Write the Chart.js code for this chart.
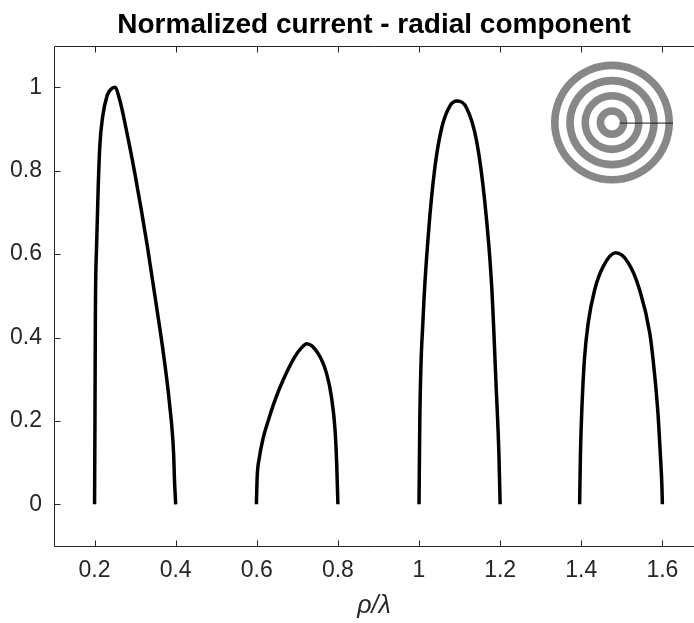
<!DOCTYPE html>
<html>
<head>
<meta charset="utf-8">
<script src="https://cdn.jsdelivr.net/npm/chart.js@4.4.1/dist/chart.umd.min.js"></script>
<style>
  html, body { margin: 0; padding: 0; background: #fff; overflow: hidden; }
  #wrap { width: 694px; height: 623px; }
</style>
</head>
<body>
<div id="wrap"><canvas id="myChart"></canvas></div>
<script>
// tick labels
const xTicks = [0.2, 0.4, 0.6, 0.8, 1.0, 1.2, 1.4, 1.6];
const yTicks = [0, 0.2, 0.4, 0.6, 0.8, 1.0];

// the four lobes (x = rho/lambda, y = normalized current)
const lobe1X = [0.200, 0.201, 0.202, 0.205, 0.209, 0.213, 0.220, 0.231, 0.240, 0.250, 0.262, 0.280, 0.300, 0.330, 0.355, 0.370, 0.385, 0.395, 0.397, 0.400];
const lobe1Y = [0.00, 0.20, 0.45, 0.62, 0.76, 0.86, 0.93, 0.98, 0.995, 1.00, 0.97, 0.89, 0.79, 0.62, 0.46, 0.36, 0.24, 0.12, 0.06, 0.00];

const lobe2X = [0.599, 0.601, 0.606, 0.616, 0.628, 0.645, 0.665, 0.694, 0.710, 0.723, 0.751, 0.772, 0.784, 0.793, 0.797, 0.800];
const lobe2Y = [0.00, 0.066, 0.11, 0.16, 0.20, 0.25, 0.298, 0.354, 0.375, 0.385, 0.362, 0.314, 0.258, 0.178, 0.098, 0.00];

const lobe3X = [1.000, 1.002, 1.010, 1.023, 1.039, 1.056, 1.076, 1.094, 1.117, 1.142, 1.162, 1.179, 1.190, 1.197, 1.200];
const lobe3Y = [0.00, 0.206, 0.446, 0.647, 0.807, 0.903, 0.955, 0.967, 0.951, 0.871, 0.727, 0.526, 0.286, 0.12, 0.00];

const lobe4X = [1.396, 1.398, 1.402, 1.408, 1.417, 1.433, 1.454, 1.485, 1.516, 1.544, 1.569, 1.580, 1.589, 1.595, 1.599, 1.600];
const lobe4Y = [0.00, 0.12, 0.24, 0.35, 0.434, 0.514, 0.570, 0.603, 0.579, 0.514, 0.410, 0.32, 0.22, 0.12, 0.04, 0.00];

const axisColor = "#262626";

function toPoints(xs, ys) {
  return xs.map(function (x, i) { return { x: x, y: ys[i] }; });
}

function lobe(xs, ys) {
  return {
    data: toPoints(xs, ys),
    borderColor: "#000",
    borderWidth: 3.5,
    pointRadius: 0,
    showLine: true,
    fill: false,
    cubicInterpolationMode: "monotone"
  };
}

// axes lines on left, top, bottom with inward ticks (right side is cut off in the picture)
const boxPlugin = {
  id: "box",
  afterDraw(chart) {
    const ctx = chart.ctx;
    const a = chart.chartArea;
    const xs = chart.scales.x;
    const ys = chart.scales.y;
    const len = 6;
    const l = Math.round(a.left) + 0.5;
    const t = Math.round(a.top) + 0.5;
    const b = Math.round(a.bottom) + 0.5;
    ctx.save();
    ctx.strokeStyle = axisColor;
    ctx.lineWidth = 1;
    ctx.beginPath();
    ctx.moveTo(a.right + 2, t);
    ctx.lineTo(l, t);
    ctx.lineTo(l, b);
    ctx.lineTo(a.right + 2, b);
    xTicks.forEach(function (v) {
      const px = Math.round(xs.getPixelForValue(v)) + 0.5;
      ctx.moveTo(px, b);
      ctx.lineTo(px, b - len);
      ctx.moveTo(px, t);
      ctx.lineTo(px, t + len);
    });
    yTicks.forEach(function (v) {
      const py = Math.round(ys.getPixelForValue(v)) + 0.5;
      ctx.moveTo(l, py);
      ctx.lineTo(l + len, py);
    });
    ctx.stroke();
    ctx.restore();
  }
};

// inset picture: concentric rings in the top right corner
const ringsPlugin = {
  id: "rings",
  afterDatasetsDraw(chart) {
    const ctx = chart.ctx;
    const a = chart.chartArea;
    const cx = a.left + 558;
    const cy = a.top + 77;
    const band = 7.6;
    ctx.save();
    for (let i = 0; i < 4; i++) {
      const outer = 61 - i * 2 * band;
      ctx.beginPath();
      ctx.arc(cx, cy, outer, 0, Math.PI * 2);
      ctx.arc(cx, cy, outer - band, 0, Math.PI * 2, true);
      ctx.fillStyle = "#878787";
      ctx.fill();
    }
    ctx.strokeStyle = "#1a1a1a";
    ctx.lineWidth = 1;
    ctx.beginPath();
    ctx.moveTo(cx + band, cy + 0.5);
    ctx.lineTo(cx + 61, cy + 0.5);
    ctx.stroke();
    ctx.restore();
  }
};

const ctx = document.getElementById("myChart").getContext("2d");
const myChart = new Chart(ctx, {
  type: "scatter",
  data: {
    datasets: [
      lobe(lobe1X, lobe1Y),
      lobe(lobe2X, lobe2Y),
      lobe(lobe3X, lobe3Y),
      lobe(lobe4X, lobe4Y)
    ]
  },
  options: {
    responsive: true,
    maintainAspectRatio: false,
    animation: false,
    layout: { padding: 0 },
    plugins: {
      legend: { display: false },
      tooltip: { enabled: false },
      title: {
        display: true,
        text: "Normalized current - radial component",
        color: "#000",
        fullSize: false,
        font: { family: "Liberation Sans, Arial", size: 28, weight: "bold", lineHeight: 1.2 },
        padding: { top: 8, bottom: 4 }
      }
    },
    scales: {
      x: {
        type: "linear",
        min: 0.1,
        max: 1.678,
        afterBuildTicks: function (scale) {
          scale.ticks = xTicks.map(function (v) { return { value: v }; });
        },
        afterFit: function (scale) { scale.height = 77; },
        grid: { display: false, drawTicks: false },
        border: { display: false },
        ticks: {
          color: axisColor,
          padding: 11,
          maxRotation: 0,
          font: { family: "Liberation Sans, Arial", size: 23 },
          callback: function (v) { return String(v); }
        },
        title: {
          display: true,
          text: "ρ/λ",
          color: axisColor,
          padding: { top: 2, bottom: 2 },
          font: { family: "Liberation Sans, Arial", size: 25, style: "italic" }
        }
      },
      y: {
        type: "linear",
        min: -0.1,
        max: 1.1,
        afterBuildTicks: function (scale) {
          scale.ticks = yTicks.map(function (v) { return { value: v }; });
        },
        afterFit: function (scale) { scale.width = 54; },
        grid: { display: false, drawTicks: false },
        border: { display: false },
        ticks: {
          color: axisColor,
          padding: 12,
          font: { family: "Liberation Sans, Arial", size: 23 },
          callback: function (v) { return String(v); }
        }
      }
    }
  },
  plugins: [ringsPlugin, boxPlugin]
});
</script>
</body>
</html>
